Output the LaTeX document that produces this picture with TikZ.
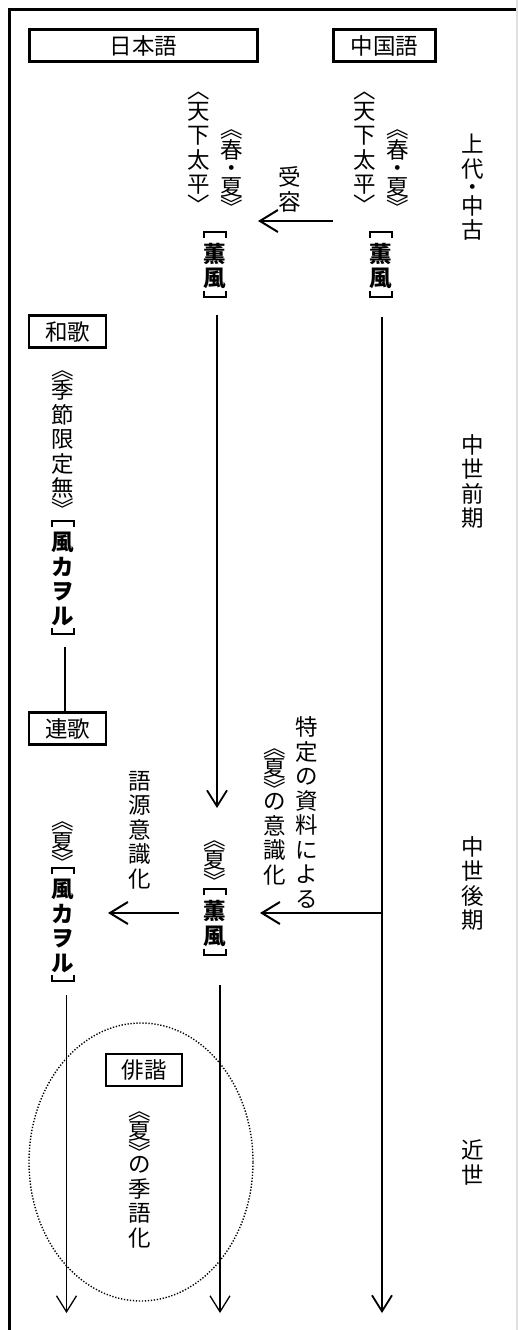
\documentclass[tikz,border=0pt]{standalone}
\usepackage{fontspec}
\newfontfamily\jp{Noto Sans CJK JP}
\usetikzlibrary{arrows.meta,shapes.geometric}
\begin{document}
\begin{tikzpicture}[x=1pt,y=-1pt,
  vt/.style={align=center,inner sep=0pt,font=\jp\fontsize{22.5}{24.5}\selectfont},
  vtb/.style={align=center,inner sep=0pt,font=\jp\bfseries\fontsize{22.5}{24.5}\selectfont},
  hb/.style={draw,line width=2.7pt,inner sep=0pt,font=\jp\fontsize{22.5}{24}\selectfont},
  brk/.style={line width=2.2pt},
  arr/.style={-{Straight Barb[length=16pt,width=20pt]}},
  harr/.style={-{Straight Barb[length=18pt,width=22pt]}},
  mainline/.style={line width=1.8pt},
  thinline/.style={line width=1.3pt}]
\useasboundingbox (0,0) rectangle (518,1330);
% frame
\draw[line width=3pt] (518,9.5) -- (9.5,9.5) -- (9.5,1330);
\draw[black!12,line width=1.2pt] (517,0) -- (517,1330);
% header boxes
\node[hb,minimum width=228pt,minimum height=32pt] (jpbox) at (143.5,45.5) {日本語};
\node[hb,minimum width=102pt,minimum height=32pt] (cnbox) at (384.5,45.5) {中国語};
% ancient period
\node[vt] (jtenka) at (199,152.5) {︿\\[-4pt]天\\下\\太\\平\\[-4pt]﹀};
\node[vt] (jharu) at (232,173) {︽\\[-4pt]春\\[-6pt]・\\[-6pt]夏\\[-4pt]︾};
\node[vtb] (jkun) at (215,266) {薫\\風};
\node[vt] (ctenka) at (365,152.5) {︿\\[-4pt]天\\下\\太\\平\\[-4pt]﹀};
\node[vt] (charu) at (398,173) {︽\\[-4pt]春\\[-6pt]・\\[-6pt]夏\\[-4pt]︾};
\node[vtb] (ckun) at (381,266) {薫\\風};
\node[vt] (juyo) at (290,189.5) {受\\容};
\node[vt] (jodai) at (473,187.5) {上\\代\\[-6pt]・\\[-6pt]中\\古};
\coordinate (ajs) at (333,221);
\coordinate (aje) at (258,221);
\draw[line width=2pt,harr] (ajs) -- (aje);
% waka
\node[hb,minimum width=77pt,minimum height=32pt] (waka) at (67.5,331.5) {和歌};
\node[vt] (kisetsu) at (63,444) {︽\\[-4pt]季\\節\\限\\定\\無\\[-4pt]︾};
\node[vtb] (kaze1) at (63,579) {風\\カ\\ヲ\\ル};
\node[hb,minimum width=77pt,minimum height=32pt] (renga) at (67.5,728.5) {連歌};
\coordinate (wl) at (65,647);
\draw[thinline] (wl) -- (renga.north -| wl);
\node[vt] (zenki) at (473,481.5) {中\\世\\前\\期};
% vertical lines
\coordinate (jtop) at (217,315);
\coordinate (jbot) at (217,808);
\draw[mainline,arr] (jtop) -- (jbot);
\coordinate (ctop) at (382,317);
\coordinate (cbot) at (382,1313);
\draw[mainline,arr] (ctop) -- (cbot);
% late medieval
\node[vt] (tokutei) at (307,812.5) {特\\定\\の\\資\\料\\に\\よ\\る};
\node[vt] (ishiki) at (275,816.5) {︽\\[-4pt]夏\\[-4pt]︾\\[-12pt]の\\意\\識\\化};
\node[vt] (gogen) at (140,830) {語\\源\\意\\識\\化};
\node[vt] (lnatsu) at (63,846.5) {︽\\[-4pt]夏\\[-4pt]︾};
\node[vtb] (kaze2) at (63,926) {風\\カ\\ヲ\\ル};
\node[vt] (mnatsu) at (215,865) {︽\\[-4pt]夏\\[-4pt]︾};
\node[vtb] (mkun) at (215,923.5) {薫\\風};
\node[vt] (koki) at (473,883.5) {中\\世\\後\\期};
\coordinate (hrs) at (383,913);
\coordinate (hre) at (260,913);
\draw[line width=2pt,harr] (hrs) -- (hre);
\coordinate (hls) at (179,913);
\coordinate (hle) at (108,913);
\draw[line width=2pt,harr] (hls) -- (hle);
% square brackets (vertical forms) round the bold words
\foreach \n in {jkun,ckun,kaze1,kaze2,mkun}{
  \draw[brk] ([shift={(-11,-5)}]\n.north) -- ++(0,-6) -- ++(22,0) -- ++(0,6);
  \draw[brk] ([shift={(-11,2)}]\n.south) -- ++(0,6) -- ++(22,0) -- ++(0,-6);
}
% early modern
\node[draw,ellipse,line width=1.4pt,dash pattern=on 1.3pt off 1.7pt,minimum width=224pt,minimum height=278pt,inner sep=0pt] (circ) at (141,1162) {};
\node[hb,minimum width=76pt,minimum height=32pt] (haikai) at (144,1070) {俳諧};
\node[vt] (kigo) at (140,1179.5) {︽\\[-4pt]夏\\[-4pt]︾\\[-12pt]の\\季\\語\\化};
\node[vt] (kinsei) at (473,1162.5) {近\\世};
\coordinate (ltop) at (66.5,995);
\coordinate (lbot) at (66.5,1313);
\draw[thinline,arr] (ltop) -- (lbot);
\coordinate (mtop) at (220,985);
\coordinate (mbot) at (220,1313);
\draw[thinline,arr] (mtop) -- (mbot);
\end{tikzpicture}
\end{document}
